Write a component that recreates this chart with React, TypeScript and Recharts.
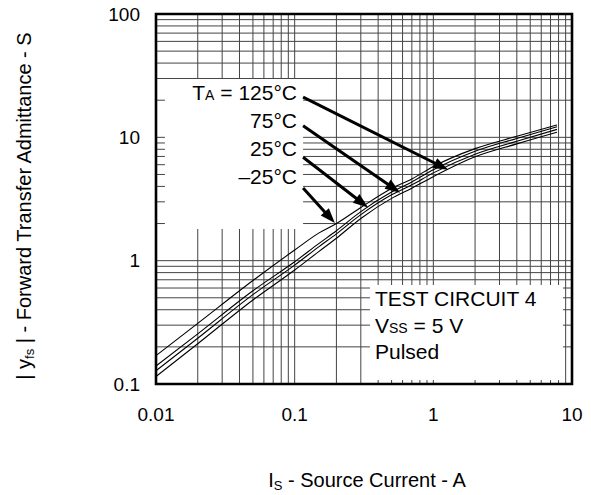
import { CartesianGrid, Line, LineChart, ReferenceArea, ReferenceLine, XAxis, YAxis } from "recharts";

const FONT = '"Liberation Sans", Arial, Helvetica, sans-serif';

// Is (A) sample points
const sourceCurrent = [0.01, 0.02, 0.05, 0.1, 0.15, 0.2, 0.3, 0.5, 0.7, 1, 2, 4, 7.8];
// |yfs| (S) per ambient temperature
const yfsMinus25 = [0.17, 0.31, 0.69, 1.22, 1.68, 2.0, 2.7, 3.85, 4.6, 5.8, 8.1, 10.2, 12.6];
const yfs25 = [0.14, 0.255, 0.57, 0.98, 1.38, 1.75, 2.5, 3.6, 4.35, 5.45, 7.7, 9.8, 12.2];
const yfs75 = [0.128, 0.235, 0.53, 0.92, 1.3, 1.65, 2.36, 3.42, 4.12, 5.15, 7.3, 9.3, 11.6];
const yfs125 = [0.115, 0.212, 0.48, 0.84, 1.19, 1.52, 2.2, 3.2, 3.87, 4.8, 6.95, 8.85, 11.0];

const xTicks = [
  0.01, 0.02, 0.03, 0.04, 0.05, 0.06, 0.07, 0.08, 0.09,
  0.1, 0.2, 0.3, 0.4, 0.5, 0.6, 0.7, 0.8, 0.9,
  1, 2, 3, 4, 5, 6, 7, 8, 9, 10,
];
const yTicks = [
  0.1, 0.2, 0.3, 0.4, 0.5, 0.6, 0.7, 0.8, 0.9,
  1, 2, 3, 4, 5, 6, 7, 8, 9,
  10, 20, 30, 40, 50, 60, 70, 80, 90, 100,
];
const xLabels = ["0.01", "0.1", "1", "10"];
const yLabels = ["0.1", "1", "10", "100"];

// annotation arrows, in data units: [from, to]
const arrowSegments = [
  [{ x: 0.115, y: 21.2 }, { x: 1.28, y: 5.45 }],
  [{ x: 0.115, y: 12.4 }, { x: 0.575, y: 3.56 }],
  [{ x: 0.115, y: 6.9 }, { x: 0.338, y: 2.7 }],
  [{ x: 0.115, y: 3.88 }, { x: 0.195, y: 2.02 }],
];

const rows = sourceCurrent.map((x, i) => ({
  x,
  m25: yfsMinus25[i],
  t25: yfs25[i],
  t75: yfs75[i],
  t125: yfs125[i],
}));

function Arrow(props: any) {
  const { x1, y1, x2, y2 } = props;
  const dx = x2 - x1;
  const dy = y2 - y1;
  const len = Math.hypot(dx, dy) || 1;
  const ux = dx / len;
  const uy = dy / len;
  const head = 15;
  const half = 5.5;
  const bx = x2 - ux * head;
  const by = y2 - uy * head;
  const pts = `${x2},${y2} ${bx - uy * half},${by + ux * half} ${bx + uy * half},${by - ux * half}`;
  return (
    <g>
      <line x1={x1} y1={y1} x2={bx + ux * 2} y2={by + uy * 2} stroke="#000" strokeWidth={3} />
      <polygon points={pts} fill="#000" />
    </g>
  );
}

export default function App() {
  return (
    <div style={{ position: "absolute", left: 0, top: 0, width: 591, height: 495, background: "#fff" }}>
      <LineChart
        width={591}
        height={495}
        data={rows}
        margin={{ top: 14, right: 19, bottom: 71, left: 100 }}
      >
        <CartesianGrid stroke="#444" strokeWidth={1} />
        <XAxis
          dataKey="x"
          type="number"
          scale="log"
          domain={[0.01, 10]}
          ticks={xTicks}
          interval={0}
          allowDataOverflow
          axisLine={false}
          tickLine={false}
          tickSize={0}
          tickMargin={24}
          height={40}
          tick={{ fill: "#000", fontSize: 19, fontFamily: FONT }}
          tickFormatter={(v) => (xLabels.includes(String(v)) ? String(v) : "")}
        />
        <YAxis
          type="number"
          scale="log"
          domain={[0.1, 100]}
          ticks={yTicks}
          interval={0}
          allowDataOverflow
          axisLine={false}
          tickLine={false}
          tickSize={0}
          tickMargin={16}
          width={56}
          tick={{ fill: "#000", fontSize: 19, fontFamily: FONT }}
          tickFormatter={(v) => (yLabels.includes(String(v)) ? String(v) : "")}
        />
        <ReferenceArea x1={0.0116} x2={0.115} y1={1.81} y2={29.7} fill="#fff" fillOpacity={1} stroke="none" />
        <ReferenceArea x1={0.349} x2={8.6} y1={0.1076} y2={0.635} fill="#fff" fillOpacity={1} stroke="none" />
        <Line type="monotone" dataKey="m25" stroke="#000" strokeWidth={1.1} dot={false} isAnimationActive={false} />
        <Line type="monotone" dataKey="t25" stroke="#000" strokeWidth={1.1} dot={false} isAnimationActive={false} />
        <Line type="monotone" dataKey="t75" stroke="#000" strokeWidth={1.1} dot={false} isAnimationActive={false} />
        <Line type="monotone" dataKey="t125" stroke="#000" strokeWidth={1.1} dot={false} isAnimationActive={false} />
        {arrowSegments.map((seg, i) => (
          <ReferenceLine key={i} segment={seg} shape={Arrow} />
        ))}
        <ReferenceArea x1={0.01} x2={10} y1={0.1} y2={100} fill="none" stroke="#000" strokeWidth={2.6} />
      </LineChart>
      <svg
        width={591}
        height={495}
        style={{ position: "absolute", left: 0, top: 0, pointerEvents: "none" }}
        fontFamily={FONT}
      >
        <text transform="translate(31,206) rotate(-90)" textAnchor="middle" fontSize={20} fill="#000">
          | y<tspan fontSize={13} dy={3}>fs</tspan>
          <tspan dy={-3}> | - Forward Transfer Admittance - S</tspan>
        </text>
        <text x={367} y={487} textAnchor="middle" fontSize={20} fill="#000">
          I<tspan fontSize={13} dy={3}>S</tspan>
          <tspan dy={-3}> - Source Current - A</tspan>
        </text>
        <g fontSize={21} fill="#000" textAnchor="end">
          <text x={297} y={100}>
            T<tspan fontSize={14}>A</tspan> = 125°C
          </text>
          <text x={297} y={128}>75°C</text>
          <text x={297} y={156}>25°C</text>
          <text x={297} y={184}>–25°C</text>
        </g>
        <g fontSize={21} fill="#000">
          <text x={375} y={306}>TEST CIRCUIT 4</text>
          <text x={375} y={333}>
            V<tspan fontSize={14}>SS</tspan> = 5 V
          </text>
          <text x={375} y={359}>Pulsed</text>
        </g>
      </svg>
    </div>
  );
}
